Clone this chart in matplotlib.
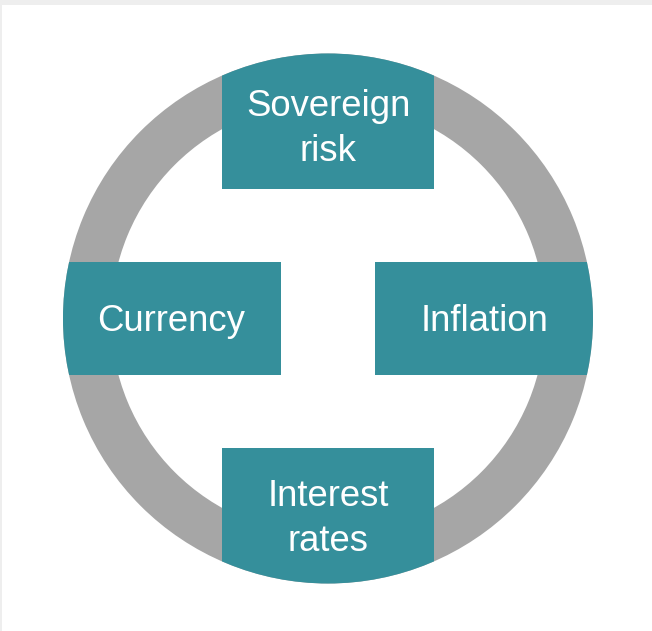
import matplotlib
matplotlib.use("Agg")
import matplotlib.pyplot as plt
from matplotlib.patches import Circle, Rectangle, Wedge

# Data: labels on the cycle, in order top, right, bottom, left
labels = ["Sovereign\nrisk", "Inflation", "Interest\nrates", "Currency"]

TEAL = "#358f9b"
GRAY = "#a6a6a6"
W, H = 652, 631

fig = plt.figure(figsize=(W / 100, H / 100), dpi=100, facecolor="#eeeeee")
ax = fig.add_axes([0, 0, 1, 1])
ax.set_xlim(0, W)
ax.set_ylim(H, 0)
ax.axis("off")

# white panel
ax.add_patch(Rectangle((2, 5), W, H, facecolor="white", edgecolor="none", zorder=0))

cx, cy = 328, 318.5
R_out, ring_w = 265, 48

ax.add_patch(Wedge((cx, cy), R_out, 0, 360, width=ring_w, facecolor=GRAY,
                   edgecolor="none", zorder=1))

clip = Circle((cx, cy), R_out, transform=ax.transData)

half_w_v = 106   # half width of top/bottom boxes
gap_v = 129.5    # distance of top/bottom boxes' inner edge from centre
gap_h = 47       # distance of left/right boxes' inner edge from centre
half_h_h = 56.5  # half height of left/right boxes
far = R_out + 10

boxes = [
    (cx - half_w_v, cy - far, 2 * half_w_v, far - gap_v),   # top
    (cx + gap_h, cy - half_h_h, far - gap_h, 2 * half_h_h),  # right
    (cx - half_w_v, cy + gap_v, 2 * half_w_v, far - gap_v),  # bottom
    (cx - far, cy - half_h_h, far - gap_h, 2 * half_h_h),    # left
]
text_pos = [
    (cx, 129),
    (cx + (gap_h + R_out) / 2 + 0.5, cy + 3),
    (cx, 519),
    (cx - (gap_h + R_out) / 2 - 0.5, cy + 3),
]

for (x, y, w, h), lab, (tx, ty) in zip(boxes, labels, text_pos):
    r = Rectangle((x, y), w, h, facecolor=TEAL, edgecolor="none", zorder=2)
    ax.add_patch(r)
    r.set_clip_path(clip)
    ax.text(tx, ty, lab, ha="center", va="center", color="white",
            fontsize=26.3, family=["Liberation Sans", "DejaVu Sans"],
            linespacing=1.4, zorder=3, multialignment="center")

fig.savefig("out.png", dpi=100, facecolor=fig.get_facecolor())
